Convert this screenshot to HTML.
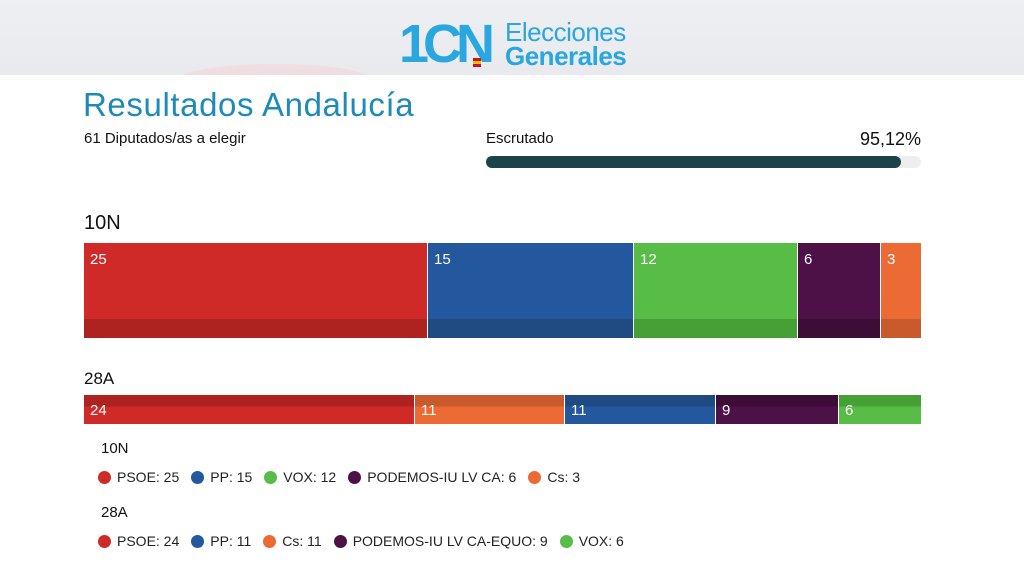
<!DOCTYPE html>
<html><head><meta charset="utf-8"><style>
body{margin:0;width:1024px;height:576px;background:#fff;font-family:"Liberation Sans",sans-serif;position:relative;overflow:hidden;color:#111}
.a{position:absolute}
.hdr{left:0;top:0;width:1024px;height:75px;background:linear-gradient(#eeeff3,#e9eaee)}
.seg{position:absolute;top:0;height:100%;color:#fff;font-size:15px}
.seg span{position:absolute;left:6px;top:8px}
.dot{display:inline-block;width:13px;height:13px;border-radius:50%;vertical-align:-2px;margin-right:6px}
.leg{font-size:14px;color:#222}
.leg b{font-weight:normal;margin-right:12px}
</style></head><body>
<div class="a hdr"></div>
<div class="a" style="left:180px;top:64px;width:190px;height:30px;border-radius:50%;background:#f3d6d8;opacity:.6"></div>
<div class="a" style="left:0;top:75px;width:1024px;height:501px;background:#fff"></div>
<div class="a" style="left:399px;top:18px;font-size:54px;font-weight:bold;color:#2aa7e0;letter-spacing:-6px;line-height:52px">1CN</div>
<div class="a" style="left:473px;top:58px;width:8px;height:9px;background:linear-gradient(#c8102e 33%,#f1bf00 33% 66%,#c8102e 66%)"></div>
<div class="a" style="left:505px;top:20px;font-size:26px;color:#2aa7e0;line-height:25px;letter-spacing:-0.5px">Elecciones</div>
<div class="a" style="left:505px;top:44px;font-size:26px;font-weight:bold;color:#2aa7e0;line-height:25px;letter-spacing:-0.5px">Generales</div>
<div class="a" style="left:83px;top:86px;font-size:33px;color:#1d8ab8;letter-spacing:0.6px">Resultados Andalucía</div>
<div class="a" style="left:84px;top:130px;font-size:15px">61 Diputados/as a elegir</div>
<div class="a" style="left:486px;top:130px;font-size:15px">Escrutado</div>
<div class="a" style="left:840px;top:129px;width:81px;text-align:right;font-size:18px">95,12%</div>
<div class="a" style="left:486px;top:156px;width:435px;height:12px;border-radius:6px;background:#eee"></div>
<div class="a" style="left:486px;top:156px;width:415px;height:12px;border-radius:6px;background:#1c424a"></div>
<div class="a" style="left:84px;top:212px;font-size:20px">10N</div>
<div class="a" style="left:84px;top:243px;width:837px;height:95px">
<div class="seg" style="left:0;width:343px;background:linear-gradient(#cf2a27 80%,#ae2220 80%)"><span>25</span></div>
<div class="seg" style="left:344px;width:205px;background:linear-gradient(#23589e 80%,#1f4a82 80%)"><span>15</span></div>
<div class="seg" style="left:550px;width:163px;background:linear-gradient(#58bd46 80%,#47a036 80%)"><span>12</span></div>
<div class="seg" style="left:714px;width:82px;background:linear-gradient(#4d1147 80%,#3d0d38 80%)"><span>6</span></div>
<div class="seg" style="left:797px;width:40px;background:linear-gradient(#ec6a34 80%,#c85a2b 80%)"><span>3</span></div>
</div>
<div class="a" style="left:84px;top:369px;font-size:17px">28A</div>
<div class="a" style="left:84px;top:395px;width:837px;height:29px">
<div class="seg" style="left:0;width:330px;background:linear-gradient(#ae2220 40%,#cf2a27 40%)"><span style="top:7px">24</span></div>
<div class="seg" style="left:331px;width:149px;background:linear-gradient(#c85a2b 40%,#ec6a34 40%)"><span style="top:7px">11</span></div>
<div class="seg" style="left:481px;width:150px;background:linear-gradient(#1f4a82 40%,#23589e 40%)"><span style="top:7px">11</span></div>
<div class="seg" style="left:632px;width:122px;background:linear-gradient(#3d0d38 40%,#4d1147 40%)"><span style="top:7px">9</span></div>
<div class="seg" style="left:755px;width:82px;background:linear-gradient(#47a036 40%,#58bd46 40%)"><span style="top:7px">6</span></div>
</div>
<div class="a" style="left:101px;top:440px;font-size:15px">10N</div>
<div class="a leg" style="left:98px;top:469px"><span class="dot" style="background:#cf2a27"></span><b>PSOE: 25</b><span class="dot" style="background:#23589e"></span><b>PP: 15</b><span class="dot" style="background:#58bd46"></span><b>VOX: 12</b><span class="dot" style="background:#4d1147"></span><b>PODEMOS-IU LV CA: 6</b><span class="dot" style="background:#ec6a34"></span><b>Cs: 3</b></div>
<div class="a" style="left:101px;top:504px;font-size:15px">28A</div>
<div class="a leg" style="left:98px;top:533px"><span class="dot" style="background:#cf2a27"></span><b>PSOE: 24</b><span class="dot" style="background:#23589e"></span><b>PP: 11</b><span class="dot" style="background:#ec6a34"></span><b>Cs: 11</b><span class="dot" style="background:#4d1147"></span><b>PODEMOS-IU LV CA-EQUO: 9</b><span class="dot" style="background:#58bd46"></span><b>VOX: 6</b></div>
</body></html>
